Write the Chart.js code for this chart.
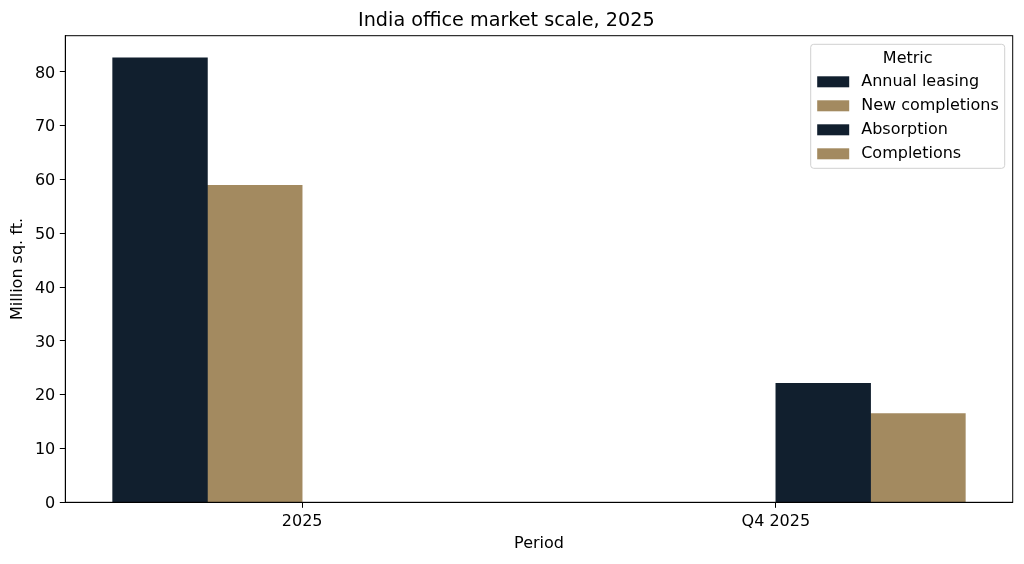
<!DOCTYPE html>
<html>
<head>
<meta charset="utf-8">
<script src="https://cdn.jsdelivr.net/npm/chart.js@4.4.0/dist/chart.umd.min.js"></script>
<style>
  html, body { margin: 0; padding: 0; background: #fff; }
</style>
</head>
<body>
<canvas id="chart" width="1024" height="564"></canvas>
<script>
const categories = ["2025", "Q4 2025"];
const seriesNames = ["Annual leasing", "New completions", "Absorption", "Completions"];
const annualLeasing = [82.6, null];
const newCompletions = [58.9, null];
const absorption = [null, 22.1];
const completions = [null, 16.5];
const yTicks = [0, 10, 20, 30, 40, 50, 60, 70, 80];
const seriesColors = ["#111f2e", "#a38a60", "#111f2e", "#a38a60"];

const FONT = "'DejaVu Sans', sans-serif";
const FS = 16;
const allSeries = [annualLeasing, newCompletions, absorption, completions];

// grouped bars like matplotlib: each series gets a 0.2 slot inside the category
function toPoints(values, s) {
  const pts = [];
  values.forEach((v, i) => {
    if (v !== null) pts.push({ x: i + (s - 1.5) * 0.2, y: v });
  });
  return pts;
}

const datasets = allSeries.map((vals, s) => ({
  label: seriesNames[s],
  data: toPoints(vals, s),
  backgroundColor: seriesColors[s],
  borderWidth: 0,
}));

const yMax = Math.max(...allSeries.flat().filter((v) => v !== null)) * 1.05;

const frame = {
  id: "frame",
  afterDraw(chart) {
    const { ctx, chartArea: a } = chart;
    ctx.save();
    ctx.strokeStyle = "#000";
    ctx.lineWidth = 1;
    ctx.strokeRect(a.left, a.top, a.right - a.left, a.bottom - a.top);
    ctx.restore();
  },
};

const metricLegend = {
  id: "metricLegend",
  afterDraw(chart) {
    const { ctx, chartArea: a } = chart;
    const boxW = 194, boxH = 124;
    const x0 = a.right - 8 - boxW;
    const y0 = a.top + 8.6;
    ctx.save();
    ctx.beginPath();
    ctx.roundRect(x0, y0, boxW, boxH, 3);
    ctx.fillStyle = "rgba(255,255,255,0.8)";
    ctx.fill();
    ctx.strokeStyle = "#d0d0d0";
    ctx.lineWidth = 1;
    ctx.stroke();

    ctx.fillStyle = "#000";
    ctx.font = FS + "px " + FONT;
    ctx.textBaseline = "middle";
    ctx.textAlign = "center";
    ctx.fillText("Metric", x0 + boxW / 2, y0 + 15);

    ctx.textAlign = "left";
    chart.data.datasets.forEach((ds, i) => {
      const cy = y0 + 38 + i * 24;
      ctx.fillStyle = ds.backgroundColor;
      ctx.fillRect(x0 + 6.5, cy - 6, 32, 11);
      ctx.fillStyle = "#000";
      ctx.fillText(ds.label, x0 + 50.5, cy);
    });
    ctx.restore();
  },
};

new Chart(document.getElementById("chart"), {
  type: "bar",
  data: { datasets: datasets },
  options: {
    responsive: false,
    animation: false,
    layout: { padding: { left: 0, right: 11.3, top: 0, bottom: 0 } },
    datasets: {
      bar: { grouped: false, categoryPercentage: 1, barPercentage: 1 },
    },
    plugins: {
      legend: { display: false },
      tooltip: { enabled: false },
      title: {
        display: true,
        text: "India office market scale, 2025",
        color: "#000",
        font: { family: FONT, size: 19.2, weight: "normal", lineHeight: 1.2 },
        padding: { top: 9.3, bottom: 3.36 },
      },
    },
    scales: {
      x: {
        type: "linear",
        min: -0.5,
        max: 1.5,
        offset: false,
        afterBuildTicks: (scale) => {
          scale.ticks = categories.map((c, i) => ({ value: i }));
        },
        afterFit: (scale) => {
          scale.height = 61.7;
        },
        ticks: {
          callback: (v) => categories[v] ?? "",
          color: "#000",
          font: { family: FONT, size: FS },
          padding: 4,
          maxRotation: 0,
        },
        grid: {
          display: true,
          offset: false,
          drawOnChartArea: false,
          drawTicks: true,
          tickLength: 5.5,
          tickColor: "#000",
        },
        border: { display: true, color: "#000", width: 1 },
        title: {
          display: true,
          text: "Period",
          color: "#000",
          font: { family: FONT, size: FS },
          padding: { top: 0, bottom: 10.6 },
        },
      },
      y: {
        min: 0,
        max: yMax,
        afterBuildTicks: (scale) => {
          scale.ticks = yTicks.map((v) => ({ value: v }));
        },
        afterFit: (scale) => {
          scale.width = 65.3;
        },
        ticks: {
          color: "#000",
          font: { family: FONT, size: FS },
          padding: 4.5,
          labelOffset: 1.5,
        },
        grid: {
          display: true,
          drawOnChartArea: false,
          drawTicks: true,
          tickLength: 5.5,
          tickColor: "#000",
        },
        border: { display: true, color: "#000", width: 1 },
        title: {
          display: true,
          text: "Million sq. ft.",
          color: "#000",
          font: { family: FONT, size: FS },
          padding: { top: 8.7, bottom: 0 },
        },
      },
    },
  },
  plugins: [frame, metricLegend],
});
</script>
</body>
</html>
